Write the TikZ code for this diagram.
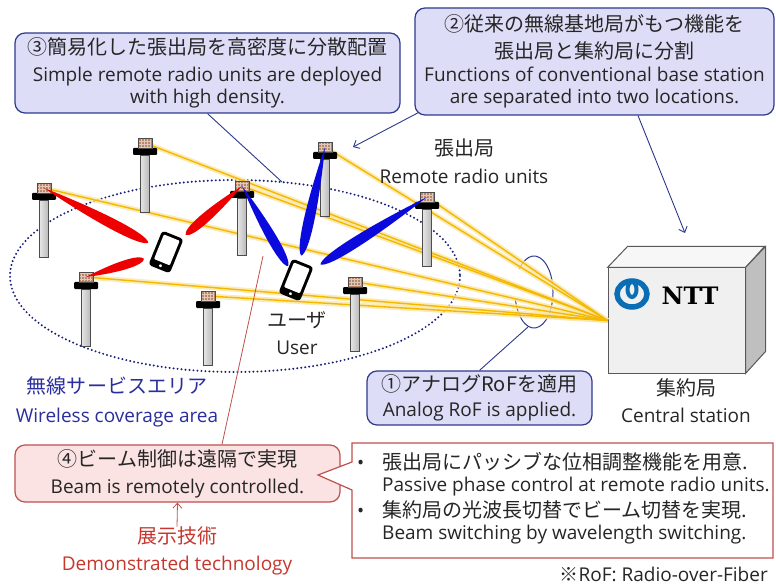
\documentclass[tikz,border=0pt]{standalone}
\usepackage{fontspec}
\setmainfont{Open Sans}
\newfontfamily\jp{Noto Sans CJK JP}
\newfontfamily\nttfont{DejaVu Serif}
\usetikzlibrary{calc,arrows.meta}

\definecolor{txt}{HTML}{262626}
\definecolor{navyline}{HTML}{2E3A8C}
\definecolor{lav}{HTML}{DDDDF7}
\definecolor{areablue}{HTML}{1A1F7A}
\definecolor{areatext}{HTML}{2B2F9E}
\definecolor{rosered}{HTML}{C0504D}
\definecolor{rosefill}{HTML}{FBE3E3}
\definecolor{demored}{HTML}{C8372D}
\definecolor{fibercore}{HTML}{F4B800}
\definecolor{beamred}{HTML}{EE0000}
\definecolor{beamblue}{HTML}{0A0ADC}
\definecolor{nttblue}{HTML}{0A6EB4}
\definecolor{patch}{HTML}{B8876A}

\tikzstyle{every node}+=[inner sep=0pt,text=txt,font=\fontsize{19}{22}\selectfont]
\tikzstyle{callout}=[draw=navyline,fill=lav,rounded corners=10pt,line width=1.2pt,align=center]
\tikzstyle{pinkbox}=[draw=rosered,fill=rosefill,rounded corners=10pt,line width=1.2pt,align=center]
\tikzstyle{lbl}=[align=center]
\tikzstyle{coverage}=[areablue,line width=2.2pt,dash pattern=on 0pt off 4pt,line cap=round]
\tikzstyle{fiberglow}=[line width=5pt,fibercore!35,opacity=.8]
\tikzstyle{fiber}=[line width=1.4pt,fibercore]
\tikzstyle{pointer}=[navyline,line width=0.9pt]
\tikzstyle{redline}=[rosered,line width=0.8pt]
\tikzstyle{barb}=[-{Straight Barb[length=5pt,width=9pt]}]
\tikzstyle{station}=[draw=black!65,line width=1pt,fill=black!6,minimum width=137pt,minimum height=105pt]

\tikzset{phone/.pic={
	\fill[black,rounded corners=3.5pt] (-11.5,-18.5) rectangle (11.5,18.5);
	\fill[white,rounded corners=1pt] (-8.5,-15.5) rectangle (8.5,11);
	\fill[white] (0,14.8) circle (1.7);
}}

\newcommand{\ja}[1]{{\jp\fontsize{20}{22}\selectfont #1}}
\newcommand{\drawfibers}[1]{
	\foreach \a in {#1}{
		\draw[fiberglow] (\a) -- (cs.west);
	}
	\foreach \a in {#1}{
		\draw[fiber] (\a) -- (cs.west);
	}
}
\newcommand{\drawbeams}[2][beamred]{
	\foreach \a/\b/\g/\w in {#2}{
		\coordinate (tip) at ($(\b)!\g!(\a)$);
		\fill[#1] (\a) .. controls ($(\a)!0.55!(tip)!\w!90:(tip)$) and ($(\a)!0.96!(tip)!\w!90:(tip)$) .. (tip)
			.. controls ($(\a)!0.96!(tip)!\w!-90:(tip)$) and ($(\a)!0.55!(tip)!\w!-90:(tip)$) .. (\a);
	}
}

\begin{document}
\begin{tikzpicture}[x=1pt,y=-1pt]
\useasboundingbox (0,0) rectangle (776,585);
\fill[white] (0,0) rectangle (776,585);

% remote radio units (patch centres) and users
\foreach \n/\x/\y in {r1/145/138,r2/44/183,r3/242/181,r4/325/142,r5/86/272,r6/208/291,r7/355/277,r8/427/192}
	\coordinate (\n) at (\x,\y+5);
\coordinate (p1) at (166,252);
\coordinate (p2) at (296,280);

% wireless coverage area
\draw[coverage] (235,276) ellipse [x radius=225,y radius=96];

% central station
\node[station] (cs) at (676.5,320.5) {};
\filldraw[draw=black!65,line width=1pt,fill=black!3] (cs.north west) -- ++(20,-21) -- ++(137,0) -- (cs.north east) -- cycle;
\filldraw[draw=black!65,line width=1pt,fill=black!25] (cs.north east) -- ++(20,-21) -- ++(0,105) -- (cs.south east) -- cycle;
\coordinate (logo) at (632,294);
\draw[nttblue,line width=5.5pt] (logo) ellipse [x radius=15,y radius=13];
\draw[nttblue,line width=4pt] ($(logo)+(0,-4.5)$) ellipse [x radius=4.5,y radius=7.5];
\node[font=\nttfont\bfseries\fontsize{24}{24}\selectfont,text=black] (ntt) at (690,296) {NTT};

% analog RoF bundle mark
\coordinate (rof) at (534,292);
\draw[pointer,line width=1pt] (rof) ++(-140:19 and 36) arc[start angle=-140,end angle=170,x radius=19,y radius=36];

% optical fibres to the central station
\drawfibers{r1,r2,r3,r4,r5,r6,r7,r8}

% antennas
\foreach \i in {1,...,8}{
	\shade[left color=gray!20,right color=gray!55,draw=gray!60!black,line width=0.6pt] ($(r\i)+(-4.5,12)$) rectangle ++(9,57);
	\fill[black,rounded corners=1pt] ($(r\i)+(-12,5)$) rectangle ++(24,7);
	\filldraw[fill=patch,draw=black!70,line width=0.5pt] ($(r\i)+(-7,-5)$) rectangle ++(14,10);
	\draw[patch!45!white,line width=0.3pt,step=3pt] ($(r\i)+(-6,-4)$) grid ($(r\i)+(6,4)$);
}

% beams
\drawbeams{r2/p1/20pt/7pt,r3/p1/26pt/6.5pt,r5/p1/23pt/6pt}
\drawbeams[beamblue]{r3/p2/16pt/6.5pt,r4/p2/25pt/7pt,r8/p2/29pt/7pt}

% users
\pic[rotate=-22] at (p1) {phone};
\pic[rotate=-22] at (p2) {phone};

% labels
\node[lbl] (rrul) at (464,161) {\ja{張出局}\\[6pt] Remote radio units};
\node[lbl] (usr) at (297,333) {\ja{ユーザ}\\[5pt] User};
\node[lbl,text=areatext] (cov) at (117,402) {\ja{無線サービスエリア}\\[7pt] Wireless coverage area};
\node[lbl] (csl) at (686,401) {\ja{集約局}\\[5pt] Central station};
\node[lbl,text=demored] (demo) at (177,551) {\ja{展示技術}\\[5pt] Demonstrated technology};

% callouts
\node[callout,minimum width=385pt,minimum height=80pt] (c3) at (207.5,73)
	{\ja{③簡易化した張出局を高密度に分散配置}\\[5pt] Simple remote radio units are deployed\\ with high density.};
\node[callout,minimum width=359pt,minimum height=107pt] (c2) at (594.5,61.5)
	{\ja{②従来の無線基地局がもつ機能を}\\[5pt]\ja{張出局と集約局に分割}\\[1pt] Functions of conventional base station\\ are separated into two locations.};
\node[callout,minimum width=225pt,minimum height=54pt] (c1) at (479.5,398)
	{\ja{①アナログRoFを適用}\\[3pt] Analog RoF is applied.};
\node[pinkbox,minimum width=325pt,minimum height=57pt] (c4) at (177.5,473.5)
	{\ja{④ビーム制御は遠隔で実現}\\[5pt] Beam is remotely controlled.};

\coordinate (k3) at (282,182);
\coordinate (k2a) at (353,147);
\coordinate (k2b) at (685,233);
\coordinate (k1) at (528,327);
\coordinate (k4) at (263,256);
\draw[pointer] (c3.south) -- (k3);
\draw[pointer,barb] ([shift={(4pt,3pt)}]c2.south west) -- (k2a);
\draw[pointer,barb] ([xshift=43.5pt]c2.south) -- (k2b);
\draw[pointer] (c1.north) -- (k1);
\draw[redline] ([xshift=44.5pt]c4.north) -- (k4);
\draw[redline,barb] (demo.north) -- (c4.south);

% speech box with the two measures
\filldraw[fill=white,draw=rosered,line width=1.2pt] (352,443) -- (773,443) -- (773,558) -- (352,558) -- (352,490) -- (318,475) -- (352,462) -- cycle;
\node[lbl,anchor=west,align=left] (bul) at (357,498)
	{\makebox[25pt][l]{•}\ja{張出局にパッシブな位相調整機能を用意.}\\
	 \hspace*{25pt}Passive phase control at remote radio units.\\[4pt]
	 \makebox[25pt][l]{•}\ja{集約局の光波長切替でビーム切替を実現.}\\
	 \hspace*{25pt}Beam switching by wavelength switching.};
\node[anchor=base east] (note) at (768,581) {{\jp ※}RoF: Radio-over-Fiber};
\end{tikzpicture}
\end{document}
